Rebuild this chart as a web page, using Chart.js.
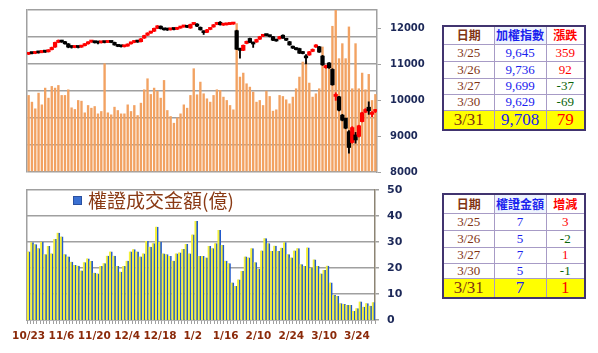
<!DOCTYPE html>
<html>
<head>
<meta charset="utf-8">
<script src="https://cdn.jsdelivr.net/npm/chart.js@4/dist/chart.umd.min.js"></script>
<style>
  body { margin: 0; background: #fff; }
  #wrap { position: relative; width: 598px; height: 353px; overflow: hidden; background: #fff; }
  canvas { position: absolute; left: 0; }
  #topChart { top: 0; }
  #botChart { top: 178px; }
  .legend { position: absolute; left: 73px; top: 189px; font-family: "Noto Sans CJK TC", sans-serif; font-size: 19px; line-height: 22px; color: #8a3a14; white-space: nowrap; }
  .legend i { display: inline-block; width: 7px; height: 7px; background: #3a70d2; border: 1px solid #2a50a0; margin-right: 6px; vertical-align: 3px; }
  table.t { position: absolute; left: 442px; border-collapse: collapse; table-layout: fixed; border: 2px solid #41346f; }
  table.t td { border: 1px solid #a79bc6; text-align: center; padding: 0; font-family: "Liberation Serif", serif; font-size: 13px; line-height: 14px; }
  table.t tr.h td { font-family: "Noto Sans CJK TC", sans-serif; font-weight: 700; font-size: 12px; }
  table.t tr.y td { background: #ffff00; font-size: 17px; }
  .c0 { color: #7f3414; }
  .c1 { color: #1a22ee; }
  .up { color: #ff0000; }
  .dn { color: #0a640a; }
</style>
</head>
<body>
<div id="wrap">
  <canvas id="topChart" width="430" height="178"></canvas>
  <canvas id="botChart" width="430" height="175"></canvas>
  <div class="legend"><i></i>權證成交金額(億)</div>
  <table class="t" id="tbl1" style="top:25px;width:142px"></table>
  <table class="t" id="tbl2" style="top:193px;width:141px"></table>
</div>
<script>
const dates = ['10/23','10/24','10/25','10/28','10/29','10/30','10/31','11/1','11/4','11/5',
'11/6','11/7','11/8','11/11','11/12','11/13','11/14','11/15','11/18','11/19',
'11/20','11/21','11/22','11/25','11/26','11/27','11/28','11/29','12/2','12/3',
'12/4','12/5','12/6','12/9','12/10','12/11','12/12','12/13','12/16','12/17',
'12/18','12/19','12/20','12/23','12/24','12/25','12/26','12/27','12/30','12/31',
'1/2','1/3','1/6','1/7','1/8','1/9','1/10','1/13','1/14','1/15',
'1/16','1/17','1/20','1/30','1/31','2/3','2/4','2/5','2/6','2/7',
'2/10','2/11','2/12','2/13','2/14','2/17','2/18','2/19','2/20','2/21',
'2/24','2/25','2/26','2/27','3/2','3/3','3/4','3/5','3/6','3/9',
'3/10','3/11','3/12','3/13','3/16','3/17','3/18','3/19','3/20','3/23',
'3/24','3/25','3/26','3/27','3/30','3/31'];

const tickDates = ['10/23','11/6','11/20','12/4','12/18','1/2','1/16','2/10','2/24','3/10','3/24'];
const idxTicks = [8000, 9000, 10000, 11000, 12000];

// 加權指數 K線
const opens = [11270,11300,11295,11320,11320,11345,11340,11400,11470,11600,
11650,11620,11560,11480,11460,11480,11470,11510,11560,11610,
11630,11590,11590,11600,11600,11620,11600,11520,11490,11480,
11500,11560,11600,11620,11620,11720,11800,11860,11910,11990,
12050,11980,11950,11950,11970,11965,12000,12030,12050,12000,
12100,12110,12020,11880,11880,11960,12030,12100,12160,12080,
12090,12100,12110,11925,11390,11380,11570,11710,11560,11610,
11690,11770,11800,11790,11760,11670,11700,11800,11700,11620,
11490,11440,11430,11330,11180,11250,11350,11470,11480,11220,
10900,11030,10850,10100,10090,9580,9490,9120,8820,9030,
8990,9400,9660,9800,9600,9680];
const closes = [11300,11290,11310,11310,11345,11330,11390,11460,11600,11650,
11610,11560,11470,11460,11475,11460,11500,11560,11610,11640,
11590,11585,11600,11595,11615,11600,11530,11490,11480,11500,
11550,11600,11620,11610,11700,11790,11860,11900,11990,12060,
11980,11950,11945,11970,11960,12000,12030,12040,12020,12100,
12130,12050,11950,11870,11950,12000,12090,12150,12090,12100,
12110,12120,12130,11410,11380,11520,11630,11600,11555,11680,
11760,11800,11790,11760,11660,11640,11760,11720,11660,11530,
11440,11400,11300,11290,11170,11340,11400,11530,11330,10977,
10950,10893,10422,10128,9717,9439,9218,8681,9234,8890,
9285,9645,9736,9699,9629,9708];
const highs = [11320,11315,11325,11335,11360,11360,11400,11470,11610,11670,
11660,11630,11570,11495,11490,11490,11510,11570,11620,11655,
11640,11610,11615,11615,11625,11630,11610,11530,11500,11510,
11560,11610,11635,11630,11710,11800,11870,11910,12000,12070,
12060,11990,11965,11980,11980,12010,12040,12055,12060,12110,
12140,12120,12030,11920,11960,12010,12100,12160,12180,12110,
12120,12130,12140,11940,11440,11530,11640,11720,11610,11690,
11770,11810,11810,11800,11770,11680,11770,11810,11710,11630,
11500,11450,11440,11350,11260,11350,11420,11540,11490,11240,
10970,11040,10870,10200,10100,9600,9500,9150,9260,9100,
9300,9660,9760,9950,9680,9740];
const lows = [11260,11280,11285,11300,11310,11320,11330,11390,11460,11590,
11600,11550,11450,11440,11450,11445,11460,11500,11550,11600,
11580,11560,11580,11585,11595,11590,11520,11480,11470,11470,
11490,11550,11590,11600,11610,11710,11790,11850,11900,11980,
11970,11940,11930,11940,11950,11955,11990,12020,12010,11990,
12090,12040,11940,11820,11870,11950,12020,12090,12080,12070,
12080,12090,12100,11400,11160,11370,11560,11590,11460,11600,
11680,11760,11780,11750,11650,11630,11690,11710,11650,11520,
11430,11390,11290,11280,11000,11240,11340,11460,11320,10960,
10880,10880,10410,9990,9700,9420,9200,8523,8800,8800,
8970,9390,9650,9600,9540,9650];

// 成交量(億)
const volume = [1424,1300,1176,1467,1250,1560,1374,1591,1560,1609,
1424,1424,1529,1195,1164,1331,1318,1102,1238,1188,
1219,1083,1127,2012,1102,1065,1207,1145,1083,1083,
1250,1127,1238,1052,1281,1529,1733,1442,1560,1504,
1374,1702,1145,1034,910,1009,1083,1250,1188,1424,
1919,1436,1671,1455,1362,1300,1424,1529,1517,1393,
1331,1238,1158,2755,1764,1838,1640,1578,1486,1300,
1331,1238,1504,1405,1133,1158,1424,1405,1343,1269,
1393,1548,1764,2043,2043,1653,1393,1455,1548,2321,
1950,1981,2705,3000,2105,2383,2105,2693,1548,2383,
1548,1838,1529,1814,1331,1442];

// 權證成交金額(億)
const warrant = [26.3,29.9,29.1,27.6,30.1,25.3,28.5,25.6,31.2,33.6,
32.1,25.3,24.4,22.4,21.2,20.9,19.0,22.2,23.7,22.7,
18.2,17.9,20.8,21.8,24.7,26.3,24.7,20.8,18.6,20.8,
22.8,26.3,27.2,26.3,24.4,25.6,30.4,28.2,29.5,35.9,
30.1,25.6,25.3,24.6,22.8,25.6,26.0,27.3,29.2,25.6,
32.9,38.1,24.6,24.6,24.0,28.5,27.6,29.5,34.6,28.8,
22.8,21.8,14.4,13.1,15.6,18.8,24.4,24.0,27.6,22.2,
19.6,26.7,31.4,29.5,26.5,28.6,26.5,27.8,29.9,25.3,
24.0,26.7,27.6,21.4,20.8,27.9,20.1,23.3,20.8,17.9,
19.2,20.9,14.4,9.6,9.2,6.4,6.2,5.8,5.8,3.5,
4.5,7.1,5.1,6.4,5.5,6.8];

// tables
const tblDates = ['3/25','3/26','3/27','3/30','3/31'];
const tblIndex = ['9,645','9,736','9,699','9,629','9,708'];
const tblIndexChg = [359, 92, -37, -69, 79];
const tblWarrant = [7, 5, 7, 5, 7];
const tblWarrantChg = [3, -2, 1, -1, 1];

const candleColors = closes.map((c, i) => c >= opens[i] ? '#ff0000' : '#000000');
const gridGray = '#a0a0a0';
const axisNavy = '#1c2858';

// keep the plot area exactly where the layout padding puts it
function noPad(s) { s.paddingTop = 0; s.paddingBottom = 0; s.paddingLeft = 0; s.paddingRight = 0; }

new Chart(document.getElementById('topChart'), {
    type: 'bar',
    data: {
        labels: dates,
        datasets: [
            {
                data: dates.map((d, i) => [opens[i], closes[i]]),
                yAxisID: 'idx',
                backgroundColor: candleColors,
                barThickness: 3.6,
                minBarLength: 2,
                grouped: false,
                order: 0,
            },
            {
                data: dates.map((d, i) => [lows[i], highs[i]]),
                yAxisID: 'idx',
                backgroundColor: candleColors,
                barThickness: 1.2,
                grouped: false,
                order: 1,
            },
            {
                data: volume,
                yAxisID: 'vol',
                backgroundColor: '#f2a262',
                barPercentage: 0.72,
                categoryPercentage: 1,
                grouped: false,
                order: 2,
            },
        ],
    },
    options: {
        responsive: false,
        animation: false,
        layout: { padding: { left: 27, top: 10, right: 0, bottom: 6 } },
        plugins: { legend: { display: false }, tooltip: { enabled: false } },
        scales: {
            x: { display: false },
            vol: {
                position: 'left',
                min: 0, max: 3000,
                ticks: { display: false, stepSize: 500 },
                grid: { color: gridGray, lineWidth: 1.5, drawTicks: false },
                border: { color: gridGray, width: 1.5 },
                afterFit(s) { s.width = 0; noPad(s); },
            },
            idx: {
                position: 'right',
                min: 8000, max: 12500,
                ticks: { color: axisNavy, padding: 9, font: { family: 'DejaVu Sans', size: 10, weight: 'bold' }, callback: v => String(v) },
                afterBuildTicks(s) { s.ticks = idxTicks.map(v => ({ value: v })); },
                grid: { drawOnChartArea: false, color: gridGray, tickLength: 4 },
                border: { color: gridGray, width: 1.5 },
                afterFit(s) { s.width = 53; noPad(s); },
            },
        },
    },
});

new Chart(document.getElementById('botChart'), {
    type: 'bar',
    data: {
        labels: dates,
        datasets: [{
            data: warrant,
            backgroundColor: '#f4f03a',
            borderColor: '#2159cc',
            borderWidth: { left: 0, right: 2, top: 0, bottom: 0 },
            borderSkipped: false,
            barPercentage: 1,
            categoryPercentage: 1,
        }],
    },
    options: {
        responsive: false,
        animation: false,
        layout: { padding: { left: 27, top: 12, right: 0, bottom: 0 } },
        plugins: { legend: { display: false }, tooltip: { enabled: false } },
        scales: {
            x: {
                grid: { drawOnChartArea: false, color: gridGray, tickLength: 4 },
                border: { color: gridGray, width: 1.5 },
                ticks: {
                    autoSkip: false, maxRotation: 0, minRotation: 0, padding: 6,
                    color: '#8b2a0a', font: { family: 'DejaVu Sans', size: 10.5, weight: 'bold' },
                    callback(v, i) { return tickDates.includes(dates[i]) ? dates[i] : ''; },
                },
                afterFit(s) { s.height = 33; noPad(s); },
            },
            yl: {
                position: 'left',
                min: 0, max: 50,
                ticks: { display: false },
                grid: { display: false },
                border: { color: gridGray, width: 1.5 },
                afterFit(s) { s.width = 0; noPad(s); },
            },
            y: {
                position: 'right',
                min: 0, max: 50,
                ticks: { stepSize: 10, color: axisNavy, padding: 8, font: { family: 'DejaVu Sans', size: 11, weight: 'bold' } },
                grid: { color: gridGray, lineWidth: 1.5, tickLength: 4 },
                border: { color: '#8c8474', width: 1.5 },
                afterFit(s) { s.width = 55; noPad(s); },
            },
        },
    },
});

function fillTable(id, heads, col2, col3, heights) {
    const tbl = document.getElementById(id);
    const widths = [51, 52, 39];
    let html = '<colgroup>' + widths.map(w => `<col style="width:${w}px">`).join('') + '</colgroup>';
    html += `<tr class="h" style="height:${heights[0]}px"><td class="c0">${heads[0]}</td><td class="c1" style="background:#eef4fd">${heads[1]}</td><td class="up">${heads[2]}</td></tr>`;
    tblDates.forEach((d, i) => {
        const last = i === tblDates.length - 1;
        const chg = col3[i];
        html += `<tr class="${last ? 'y' : ''}" style="height:${heights[i + 1]}px"><td class="c0">${d}</td><td class="c1">${col2[i]}</td><td class="${chg < 0 ? 'dn' : 'up'}">${chg}</td></tr>`;
    });
    tbl.innerHTML = html;
}

fillTable('tbl1', ['日期', '加權指數', '漲跌'], tblIndex, tblIndexChg, [18, 17, 17, 16, 16, 20]);
fillTable('tbl2', ['日期', '權證金額', '增減'], tblWarrant, tblWarrantChg, [19, 17, 17, 16, 15, 20]);
</script>
</body>
</html>
